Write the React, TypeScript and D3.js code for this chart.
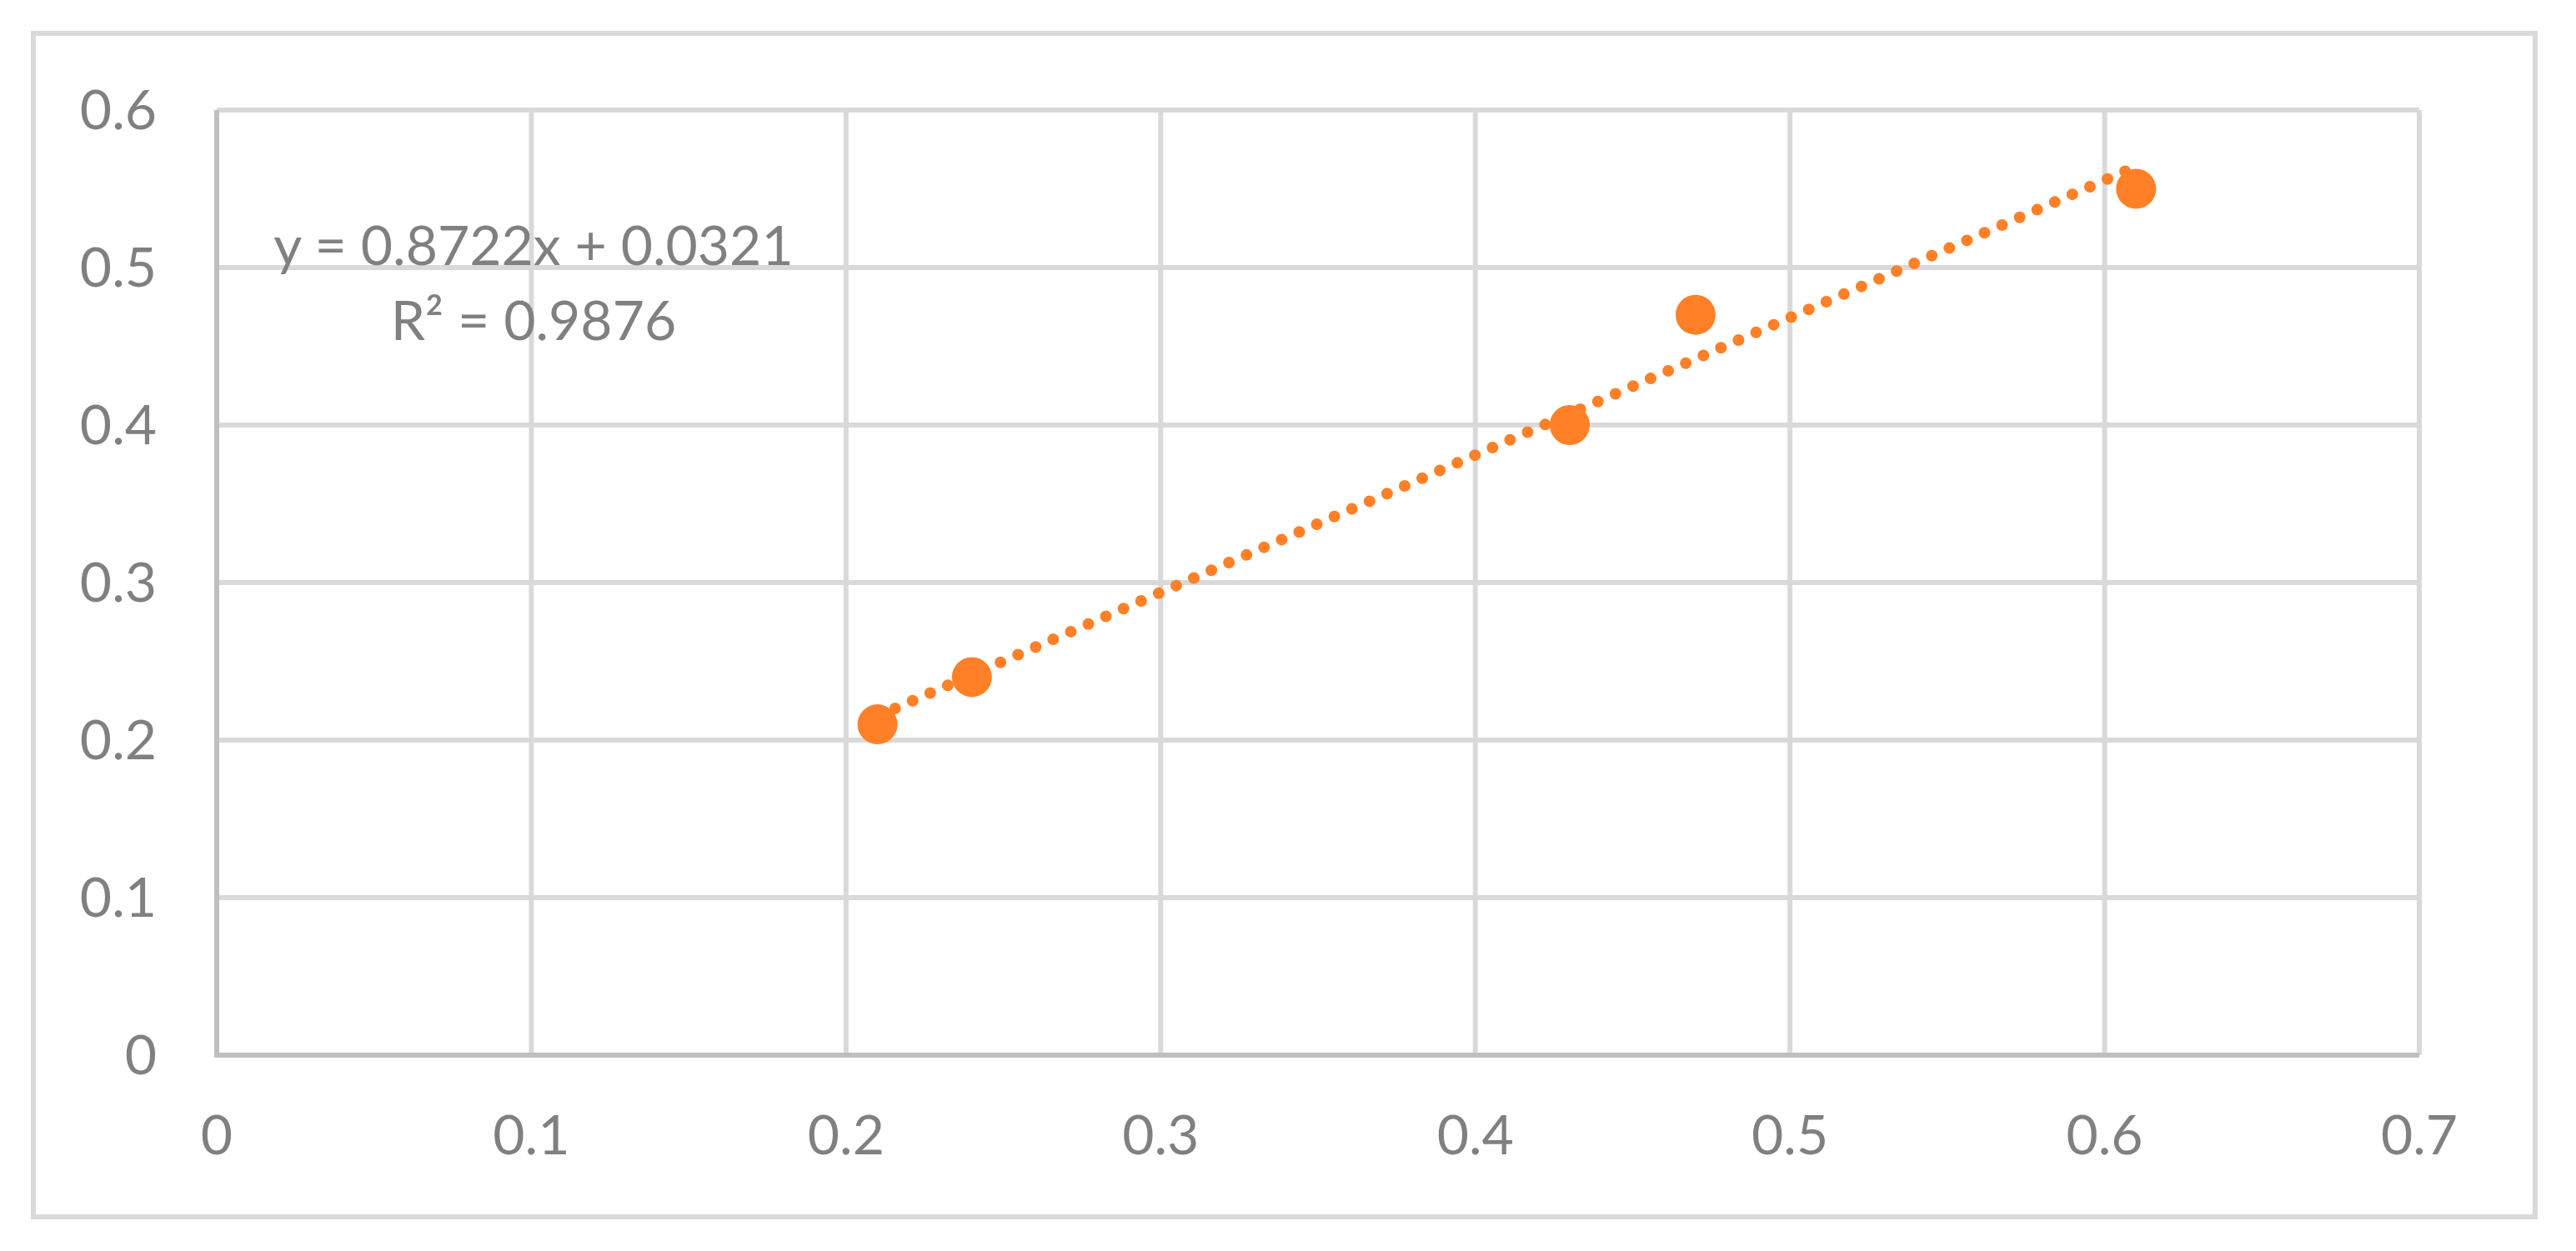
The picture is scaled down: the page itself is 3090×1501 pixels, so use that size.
import React from "react";
import * as d3 from "d3";

const xValues = [0.21, 0.24, 0.43, 0.47, 0.61];
const yValues = [0.21, 0.24, 0.4, 0.47, 0.55];
const xTicks = [0, 0.1, 0.2, 0.3, 0.4, 0.5, 0.6, 0.7];
const yTicks = [0, 0.1, 0.2, 0.3, 0.4, 0.5, 0.6];
const slope = 0.8722;
const intercept = 0.0321;
const equationLines = ["y = 0.8722x + 0.0321", "R² = 0.9876"];

const W = 3090;
const H = 1501;
const FONT = "Lato, 'Open Sans', sans-serif";
const TEXT = "#808080";
const GRID = "#d9d9d9";
const AXIS = "#bfbfbf";
const ORANGE = "#ff8027";

export default function App() {
  const x = d3.scaleLinear().domain([0, 0.7]).range([260, 2902]);
  const y = d3.scaleLinear().domain([0, 0.6]).range([1266, 132]);

  const trendX = [d3.min(xValues) as number, d3.max(xValues) as number];
  const line = d3
    .line<number>()
    .x((d) => x(d))
    .y((d) => y(slope * d + intercept));

  return (
    <svg
      width={W}
      height={H}
      style={{ position: "absolute", left: 0, top: 0, background: "#fff" }}
    >
      <rect x={0} y={0} width={W} height={H} fill="#fff" />
      <rect
        x={40}
        y={40}
        width={3001}
        height={1420}
        fill="none"
        stroke={GRID}
        strokeWidth={6}
      />
      {/* gridlines */}
      {yTicks
        .filter((t) => t !== 0)
        .map((t) => (
          <line
            key={"gy" + t}
            x1={x(0)}
            x2={x(0.7)}
            y1={y(t)}
            y2={y(t)}
            stroke={GRID}
            strokeWidth={6}
          />
        ))}
      {xTicks
        .filter((t) => t !== 0)
        .map((t) => (
          <line
            key={"gx" + t}
            x1={x(t)}
            x2={x(t)}
            y1={y(0)}
            y2={y(0.6)}
            stroke={GRID}
            strokeWidth={6}
          />
        ))}
      {/* axes */}
      <line x1={x(0)} x2={x(0)} y1={y(0.6)} y2={y(0) + 3} stroke={AXIS} strokeWidth={6} />
      <line x1={x(0) - 3} x2={x(0.7)} y1={y(0)} y2={y(0)} stroke={AXIS} strokeWidth={6} />
      {/* tick labels */}
      {yTicks.map((t) => (
        <text
          key={"ly" + t}
          x={188}
          y={y(t)}
          dy="0.355em"
          textAnchor="end"
          fontFamily={FONT}
          fontSize={66}
          fill={TEXT}
        >
          {String(t)}
        </text>
      ))}
      {xTicks.map((t) => (
        <text
          key={"lx" + t}
          x={x(t)}
          y={1385}
          textAnchor="middle"
          fontFamily={FONT}
          fontSize={66}
          fill={TEXT}
        >
          {String(t)}
        </text>
      ))}
      {/* trendline */}
      <path
        d={line(trendX) || ""}
        fill="none"
        stroke={ORANGE}
        strokeWidth={14}
        strokeLinecap="round"
        strokeDasharray="0 23"
      />
      {/* points */}
      {xValues.map((v, i) => (
        <circle key={"p" + i} cx={x(v)} cy={y(yValues[i])} r={24} fill={ORANGE} />
      ))}
      {/* equation */}
      {equationLines.map((s, i) => (
        <text
          key={"eq" + i}
          x={640}
          y={318 + i * 90}
          textAnchor="middle"
          fontFamily={FONT}
          fontSize={66}
          fill={TEXT}
        >
          {s}
        </text>
      ))}
    </svg>
  );
}
